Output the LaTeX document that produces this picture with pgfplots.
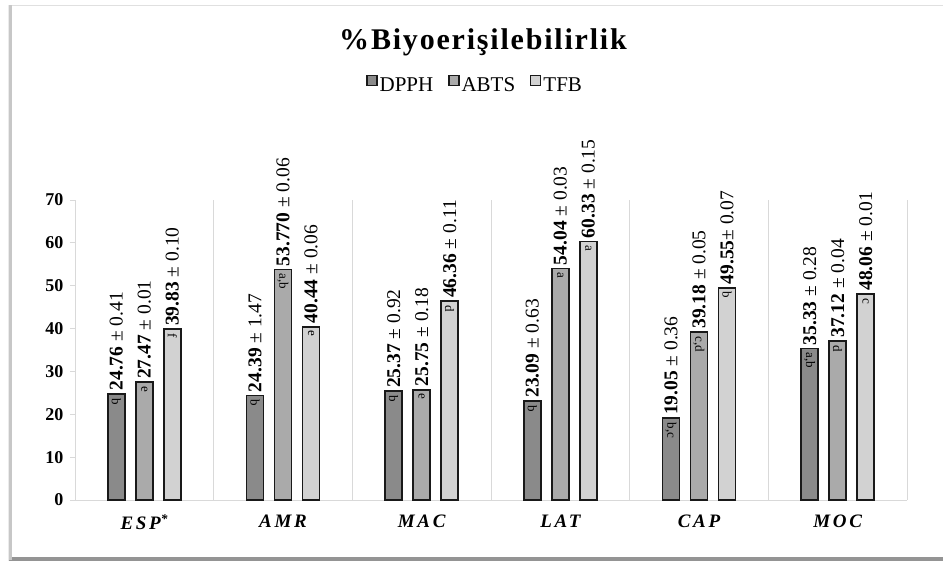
\documentclass[border=0pt]{standalone}
\usepackage{pgfplots}
\pgfplotsset{compat=1.18}
\usepackage{pgfplotstable}
\usepackage{fontspec}
\setmainfont{Liberation Serif}
\newfontfamily\titlefont[LetterSpace=6]{Liberation Serif}
\newfontfamily\catfont[LetterSpace=14]{Liberation Serif}

\definecolor{cDPPH}{RGB}{138,138,138}
\definecolor{cABTS}{RGB}{170,170,170}
\definecolor{cTFB}{RGB}{210,210,210}
\definecolor{sepgray}{RGB}{217,217,217}

% x = sample index, y = mean, lab = mean +/- sd, let = significance letters
\pgfplotstableread[col sep=semicolon]{
x;y;lab;let
0;24.76;\textbf{24.76} ± 0.41;b
1;24.39;\textbf{24.39} ± 1.47;b
2;25.37;\textbf{25.37} ± 0.92;b
3;23.09;\textbf{23.09} ± 0.63;b
4;19.05;\textbf{19.05} ± 0.36;b,c
5;35.33;\textbf{35.33} ± 0.28;a,b
}\tDPPH

\pgfplotstableread[col sep=semicolon]{
x;y;lab;let
0;27.47;\textbf{27.47} ± 0.01;e
1;53.770;\textbf{53.770} ± 0.06;a,b
2;25.75;\textbf{25.75} ± 0.18;e
3;54.04;\textbf{54.04} ± 0.03;a
4;39.18;\textbf{39.18} ± 0.05;c,d
5;37.12;\textbf{37.12} ± 0.04;d
}\tABTS

\pgfplotstableread[col sep=semicolon]{
x;y;lab;let
0;39.83;\textbf{39.83} ± 0.10;f
1;40.44;\textbf{40.44} ± 0.06;e
2;46.36;\textbf{46.36} ± 0.11;d
3;60.33;\textbf{60.33} ± 0.15;a
4;49.55;\textbf{49.55}± 0.07;b
5;48.06;\textbf{48.06} ± 0.01;c
}\tTFB

\pgfplotsset{
  valbar/.style={
    bar shift=#1, draw=black!90, line width=1.8pt,
    point meta=explicit symbolic,
    nodes near coords,
    every node near coord/.append style={rotate=90, anchor=west, text=black,
      font=\fontsize{19.5}{19.5}\selectfont, inner xsep=2.5pt, inner ysep=0pt},
    legend image code/.code={%
      \draw[##1, line width=1.2pt] (0pt,0pt) rectangle (10pt,10pt);},
  },
  letbar/.style={
    bar shift=#1, draw=none, fill=none, forget plot,
    point meta=explicit symbolic,
    nodes near coords,
    every node near coord/.append style={rotate=-90, anchor=west, text=black,
      font=\fontsize{13}{13}\selectfont, inner xsep=4pt, inner ysep=0pt},
  },
}

\begin{document}
\begin{tikzpicture}[x=1pt,y=1pt]
\useasboundingbox (0,0) rectangle (943,563);
% card with drop shadow
\fill[black!8] (7.5,2) rectangle (943,558);
\fill[black!42] (9,2.5) rectangle (943,6.5);
\fill[black!22] (8.5,3) rectangle (11.5,557.5);
\fill[white] (11.5,6.5) rectangle (943,557.5);
\draw[black!12, line width=1pt] (11.5,557.5) -- (943,557.5);

\node[anchor=base, font=\titlefont\fontsize{30}{30}\selectfont\bfseries]
  at (483,513) {\%Biyoerişilebilirlik};

\begin{axis}[
  at={(75pt,63pt)}, anchor=south west,
  width=832pt, height=300pt, scale only axis,
  xmin=-0.5, xmax=5.5, ymin=0, ymax=70,
  ybar, bar width=17pt,
  axis x line*=bottom, axis y line*=left,
  axis line style={draw=sepgray, line width=0.9pt, -},
  ytick={0,10,...,70},
  tick align=outside, major tick length=5pt,
  ytick style={draw=sepgray, line width=0.9pt},
  /pgf/number format/assume math mode=true,
  yticklabel style={font=\fontsize{18}{18}\selectfont\bfseries, xshift=-3pt},
  xtick={0,...,5},
  xticklabels={ESP\textsuperscript{*}, AMR, MAC, LAT, CAP, MOC},
  xtick style={draw=none},
  xticklabel style={font=\catfont\fontsize{19}{19}\selectfont\bfseries\itshape, yshift=-6pt},
  minor xtick={0.5,1.5,...,5.5},
  xminorgrids,
  minor x grid style={draw=sepgray, line width=0.9pt},
  legend style={at={(0.481,1.383)}, anchor=center, draw=none, fill=none,
    font=\fontsize{21}{21}\selectfont,
    /tikz/every even column/.append style={column sep=13pt}},
  legend columns=3,
  clip=false,
]
\addplot[valbar=-28pt, fill=cDPPH] table[x=x, y=y, meta=lab] {\tDPPH};
\addplot[valbar=0pt, fill=cABTS] table[x=x, y=y, meta=lab] {\tABTS};
\addplot[valbar=28pt, fill=cTFB] table[x=x, y=y, meta=lab] {\tTFB};
\legend{DPPH, ABTS, TFB}
\addplot[letbar=-28pt] table[x=x, y=y, meta=let] {\tDPPH};
\addplot[letbar=0pt] table[x=x, y=y, meta=let] {\tABTS};
\addplot[letbar=28pt] table[x=x, y=y, meta=let] {\tTFB};
\end{axis}
\end{tikzpicture}
\end{document}
